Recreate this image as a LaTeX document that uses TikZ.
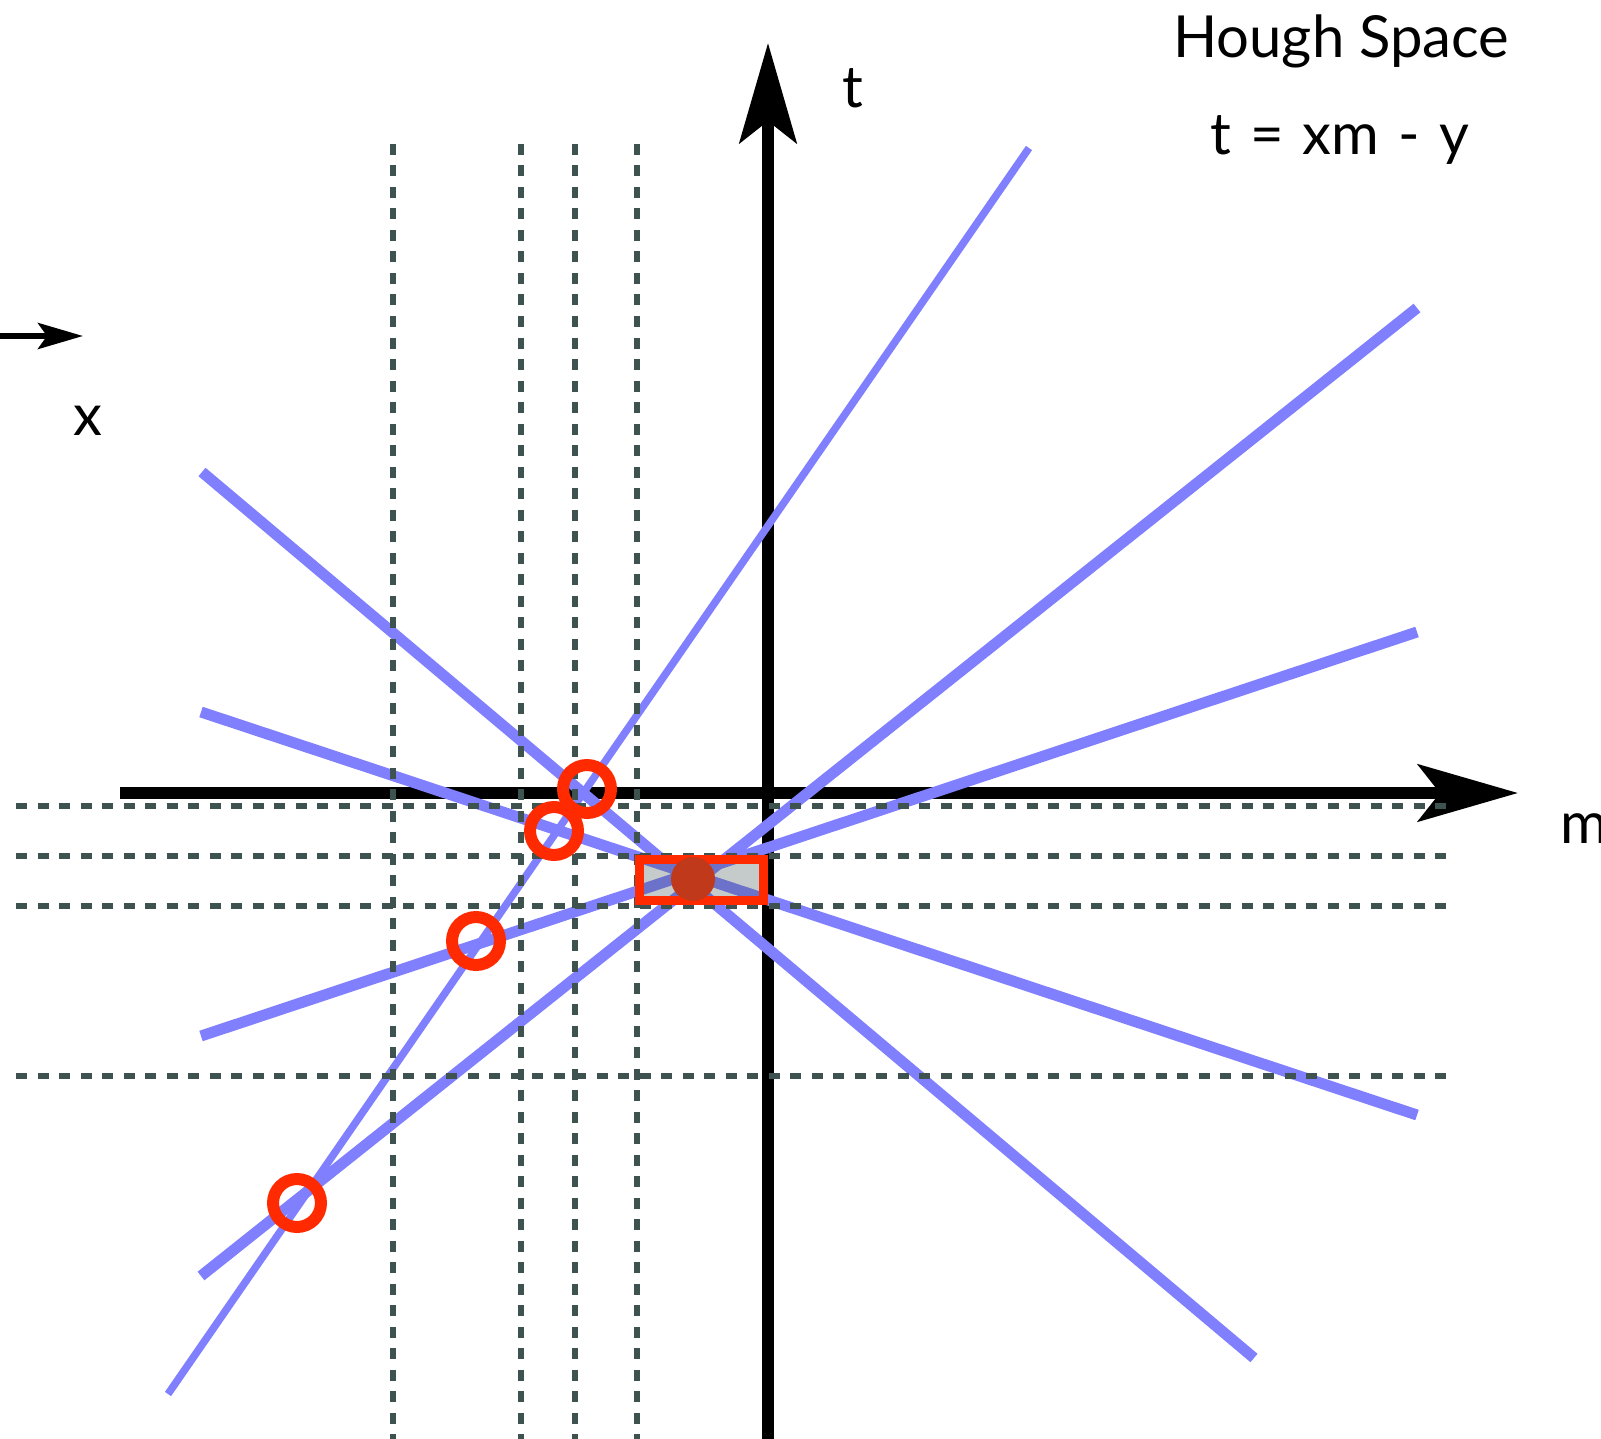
\documentclass[tikz,border=0pt]{standalone}
\usepackage{fontspec}
\setmainfont{Lato}
\usetikzlibrary{arrows.meta,positioning}
\definecolor{vote}{HTML}{8080FF}
\definecolor{grid}{HTML}{3E5250}
\definecolor{mark}{HTML}{FF2A00}
\definecolor{peak}{HTML}{C0391B}

\begin{document}
\begin{tikzpicture}[x=1pt,y=-1pt,
 axis/.style={-{Stealth[length=100pt,width=57pt,inset=22pt]},line width=11.5pt},
 bin/.style={draw=grid,line width=5.5pt,dash pattern=on 11pt off 10.5pt},
 line/.style={draw=vote,line width=11pt},
 thinline/.style={draw=vote,line width=7.5pt},
 hit/.style={circle,draw=mark,line width=12pt,minimum size=48pt,inner sep=0pt},
 lbl/.style={font=\fontsize{58}{62}\selectfont,inner sep=0pt,anchor=base west}]
\useasboundingbox (0,0) rectangle (1601,1439);
% axes
\coordinate (mstart) at (120,793);
\coordinate (mend) at (1518,793);
\coordinate (tstart) at (768,1439);
\coordinate (tend) at (768,43);
\draw[axis] (mstart)--(mend);
\draw[axis] (tstart)--(tend);
\coordinate (xstart) at (-10,336);
\coordinate (xend) at (83,336);
\draw[-{Stealth[length=45pt,width=26pt,inset=9pt]},line width=6pt] (xstart)--(xend);
% lines in hough space
\draw[thinline] (168,1394)--(1029,148);
\draw[line] (201,1276)--(1417,308);
\draw[line] (201,1036)--(1417,632);
\draw[line] (201,712)--(1417,1115);
\draw[line] (202,472)--(1254,1358);
% bins
\foreach \gx in {393,521,575,637} \draw[bin] (\gx,144)--(\gx,1439);
\foreach \gy in {806,856,906,1076} \draw[bin] (16,\gy)--(1448,\gy);
% accumulator cell and peak
\node[draw=mark,fill=grid,fill opacity=0.3,draw opacity=1,line width=9pt,
 minimum width=124pt,minimum height=41pt,inner sep=0pt] (cell) at (701.5,880) {};
\node[circle,fill=peak,minimum size=44pt,inner sep=0pt] (max) at (693,879) {};
% intersections
\node[hit] (h1) at (587,789) {};
\node[hit] (h2) at (554,831) {};
\node[hit] (h3) at (476,941) {};
\node[hit] (h4) at (297,1203) {};
% labels
\node[lbl] (tlab) at (842,108) {t};
\node[lbl] (mlab) at (1560,843) {m};
\node[lbl] (xlab) at (73,435) {x};
\node[lbl] (title) at (1173,58) {Hough Space};
\node[lbl] (eq) at (1210,155) {\spaceskip=0.33em t = xm - y};
\end{tikzpicture}
\end{document}
